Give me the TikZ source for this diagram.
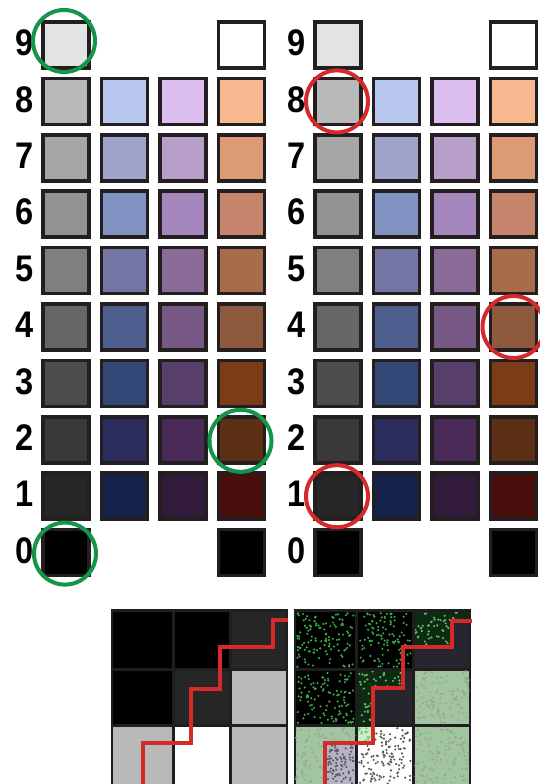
\documentclass[tikz,border=0pt]{standalone}
\usepackage{fontspec}
\setmainfont{Liberation Sans}
\usepackage{tikz}
\usetikzlibrary{calc}

% swatch colours: gr = grey, bl = blue, pu = purple, or = orange; number = level
\definecolor{gr9}{HTML}{E2E3E5}\definecolor{gr8}{HTML}{B9B9B9}\definecolor{gr7}{HTML}{A6A6A6}
\definecolor{gr6}{HTML}{939393}\definecolor{gr5}{HTML}{7F7F7F}\definecolor{gr4}{HTML}{676767}
\definecolor{gr3}{HTML}{4D4D4D}\definecolor{gr2}{HTML}{3A3A3A}\definecolor{gr1}{HTML}{262626}
\definecolor{gr0}{HTML}{000000}
\definecolor{bl8}{HTML}{B8C8EF}\definecolor{bl7}{HTML}{9EA4CC}\definecolor{bl6}{HTML}{8193C2}
\definecolor{bl5}{HTML}{7575A6}\definecolor{bl4}{HTML}{4E5E8E}\definecolor{bl3}{HTML}{334776}
\definecolor{bl2}{HTML}{2B2D5E}\definecolor{bl1}{HTML}{15234A}
\definecolor{pu8}{HTML}{DCBFEF}\definecolor{pu7}{HTML}{B79FCA}\definecolor{pu6}{HTML}{A687BD}
\definecolor{pu5}{HTML}{8B6B98}\definecolor{pu4}{HTML}{775884}\definecolor{pu3}{HTML}{573E6B}
\definecolor{pu2}{HTML}{4A2A58}\definecolor{pu1}{HTML}{311A3A}
\definecolor{or9}{HTML}{FFFFFF}\definecolor{or8}{HTML}{F9B990}\definecolor{or7}{HTML}{DD9B73}
\definecolor{or6}{HTML}{C5856C}\definecolor{or5}{HTML}{A86C4A}\definecolor{or4}{HTML}{8E5A3E}
\definecolor{or3}{HTML}{7B3C17}\definecolor{or2}{HTML}{5E2F17}\definecolor{or1}{HTML}{4A0F0C}
\definecolor{or0}{HTML}{000000}
\definecolor{swatchedge}{HTML}{231F20}
\definecolor{ringgreen}{HTML}{14964A}
\definecolor{ringred}{HTML}{D42A2A}
\definecolor{gridline}{HTML}{1E1E1E}
\definecolor{darkcell}{HTML}{27262E}
\definecolor{mossbg}{HTML}{0E2A12}
\definecolor{speckgreen}{HTML}{3AA846}
\definecolor{sage}{HTML}{A3C4A1}
\definecolor{lilac}{HTML}{B5B3C6}
\definecolor{mint}{HTML}{C5F0C0}

\tikzset{
  swatch/.style={rectangle, minimum size=46pt, inner sep=0pt, draw=swatchedge, line width=3.5pt},
  level/.style={font=\fontsize{37}{37}\selectfont\bfseries, xscale=0.88, inner sep=0pt},
  goodring/.style={circle, minimum size=62pt, inner sep=0pt, draw=ringgreen, line width=4pt},
  badring/.style={circle, minimum size=62pt, inner sep=0pt, draw=ringred, line width=4pt},
  staircase/.style={draw=ringred, line width=3.5pt}
}

% random dots in a box: x1,y1,x2,y2,count,colour
\newcommand\speckle[6]{%
  \foreach \i in {1,...,#5}
    \fill[#6] ({#1+(#3-#1)*rnd},{#2+(#4-#2)*rnd}) circle (1.2);
}

\begin{document}
\begin{tikzpicture}[x=1pt, y=-1pt]
\useasboundingbox (0,0) rectangle (540,784);
\pgfmathsetseed{11}

% two swatch panels
\foreach \side/\dx in {L/0, R/272} {
  \foreach \r in {9,...,0}
    \node[level] (lab\side\r) at ({25+\dx},{43+56.4*(9-\r)}) {\r};
  \foreach \r in {1,...,8}
    \foreach \c/\k in {1/gr, 2/bl, 3/pu, 4/or}
      \node[swatch, fill=\k\r] (\side\c\r) at ({66+58.5*(\c-1)+\dx},{45+56.4*(9-\r)}) {};
  \foreach \r in {9,0}
    \foreach \c/\k in {1/gr, 4/or}
      \node[swatch, fill=\k\r] (\side\c\r) at ({66+58.5*(\c-1)+\dx},{45+56.4*(9-\r)}) {};
}

% rings
\node[goodring] (hitA) at ($(L19)+(-2,-4)$) {};
\node[goodring] (hitB) at ($(L42)+(-1,1)$) {};
\node[goodring] (hitC) at ($(L10)+(-1,1)$) {};
\node[badring] (missA) at ($(R18)+(-1,0)$) {};
\node[badring] (missB) at (R44) {};
\node[badring] (missC) at ($(R11)+(-1,0)$) {};

% bottom left: grey levels
\fill[gridline] (111,609) rectangle (288,784);
\foreach \xa/\ya/\xb/\yb/\col in {113/612/172/668/black, 175/612/229/668/black, 232/612/286/668/gr1,
    113/671/172/724/black, 175/671/229/724/gr1, 232/671/286/724/gr8,
    113/727/172/784/gr8, 175/727/229/784/white, 232/727/286/784/gr8}
  \fill[\col] (\xa,\ya) rectangle (\xb,\yb);
\draw[staircase] (143,784) |- (191,743) |- (220,689) |- (273,647) |- (288,620);

% bottom right: same levels, speckled
\begin{scope}[xshift=183pt]
  \fill[gridline] (111,609) rectangle (288,784);
  % top row
  \fill[black] (113,612) rectangle (172,668);
  \speckle{114}{613}{171}{667}{120}{speckgreen}
  \fill[black] (175,612) rectangle (229,668);
  \speckle{176}{613}{228}{667}{110}{speckgreen}
  \fill[darkcell] (232,612) rectangle (286,668);
  \begin{scope}
    \clip (232,612) -- (286,612) -- (286,621) -- (269,621) -- (269,647) -- (232,647) -- cycle;
    \fill[mossbg] (232,612) rectangle (286,668);
    \speckle{232}{612}{286}{647}{70}{speckgreen!80!white}
  \end{scope}
  % middle row
  \fill[black] (113,671) rectangle (172,724);
  \speckle{114}{672}{171}{723}{110}{speckgreen}
  \fill[darkcell] (175,671) rectangle (229,724);
  \begin{scope}
    \clip (175,671) -- (220,671) -- (220,689) -- (191,689) -- (191,724) -- (175,724) -- cycle;
    \fill[mossbg] (175,671) rectangle (229,724);
    \speckle{175}{671}{220}{724}{80}{speckgreen!80!white}
  \end{scope}
  \fill[sage] (232,671) rectangle (286,724);
  \speckle{232}{671}{286}{724}{110}{sage!88!black}
  % bottom row
  \fill[sage] (113,727) rectangle (172,784);
  \speckle{113}{727}{172}{784}{110}{sage!88!black}
  \fill[lilac] (142,743) rectangle (172,784);
  \speckle{143}{744}{171}{784}{80}{black!65}
  \fill[white] (175,727) rectangle (229,784);
  \speckle{176}{728}{228}{784}{130}{black!65}
  \fill[mint] (175,727) rectangle (190,743);
  \speckle{175}{727}{190}{743}{12}{speckgreen!70!white}
  \fill[sage] (232,727) rectangle (286,784);
  \speckle{232}{727}{286}{784}{110}{sage!88!black}
  \draw[staircase, line width=4pt] (142,784) |- (190,743) |- (220,688) |- (269,647) |- (289,621);
\end{scope}
\end{tikzpicture}
\end{document}
